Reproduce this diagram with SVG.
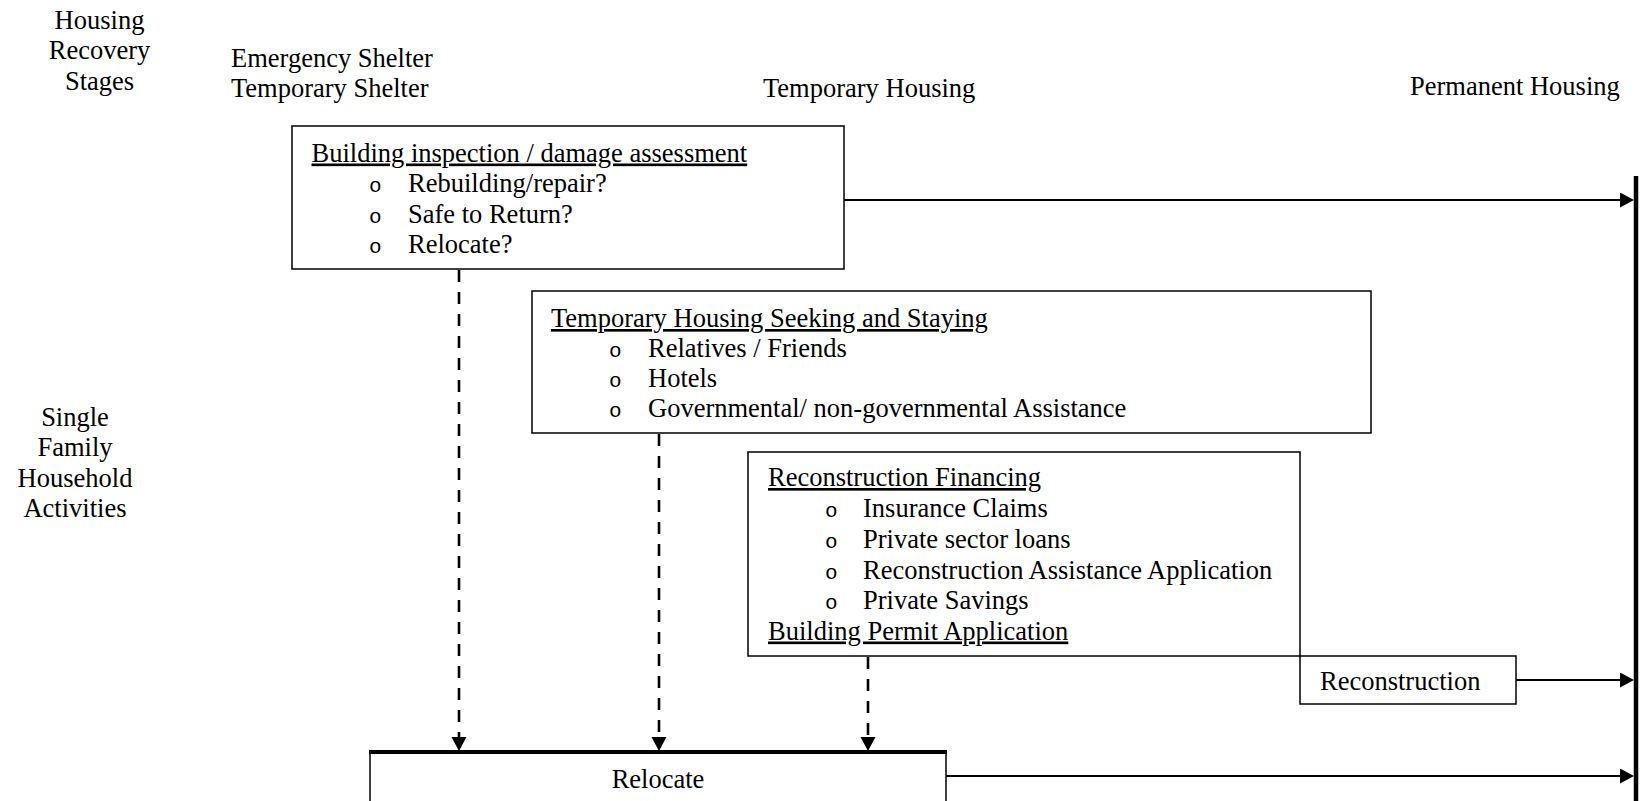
<svg xmlns="http://www.w3.org/2000/svg" width="1640" height="801" viewBox="0 0 1640 801">
<style>
text{font-family:"Liberation Serif","Times New Roman",serif;font-size:26.5px;fill:#000}
.b{font-family:"Liberation Mono","Courier New",monospace;font-size:21px}
.u{text-decoration:underline}
.box{fill:#fff;stroke:#000;stroke-width:1.5}
.solid{stroke:#000;stroke-width:2;fill:none}
.dash{stroke:#000;stroke-width:2.6;fill:none;stroke-dasharray:12 10}
</style>
<defs>
<marker id="ah" markerUnits="userSpaceOnUse" markerWidth="15" markerHeight="16" refX="0" refY="7.5" orient="auto">
<path d="M0,0 L14,7.5 L0,15 z" fill="#000"/>
</marker>
</defs>
<rect width="1640" height="801" fill="#fff"/>
<g id="stage-labels">
<text x="99.5" y="28.5" text-anchor="middle">Housing</text>
<text x="99.5" y="59" text-anchor="middle">Recovery</text>
<text x="99.5" y="89.5" text-anchor="middle">Stages</text>
<text x="231" y="66.5">Emergency Shelter</text>
<text x="231" y="97">Temporary Shelter</text>
<text x="763" y="97">Temporary Housing</text>
<text x="1410" y="95">Permanent Housing</text>
</g>
<g id="row-label">
<text x="75" y="425.5" text-anchor="middle">Single</text>
<text x="75" y="456" text-anchor="middle">Family</text>
<text x="75" y="486.5" text-anchor="middle">Household</text>
<text x="75" y="517" text-anchor="middle">Activities</text>
</g>
<g id="permanent-bar">
<line x1="1636" y1="176" x2="1636" y2="801" stroke="#000" stroke-width="4.5"/>
</g>
<g id="connectors">
<line class="solid" x1="844" y1="200" x2="1620" y2="200" marker-end="url(#ah)"/>
<line class="solid" x1="1516" y1="680" x2="1620" y2="680" marker-end="url(#ah)"/>
<line class="solid" x1="946" y1="776" x2="1620" y2="776" marker-end="url(#ah)"/>
<line class="dash" x1="459" y1="270" x2="459" y2="737" marker-end="url(#ah)"/>
<line class="dash" x1="659" y1="434" x2="659" y2="737" marker-end="url(#ah)"/>
<line class="dash" x1="868" y1="657" x2="868" y2="737" marker-end="url(#ah)"/>
</g>
<g id="inspection">
<rect class="box" x="292" y="126" width="552" height="143"/>
<text class="u" x="311.5" y="161.5">Building inspection / damage assessment</text>
<text class="b" x="369" y="192">o</text><text x="408" y="192">Rebuilding/repair?</text>
<text class="b" x="369" y="222.5">o</text><text x="408" y="222.5">Safe to Return?</text>
<text class="b" x="369" y="253">o</text><text x="408" y="253">Relocate?</text>
</g>
<g id="temporary-housing">
<rect class="box" x="532" y="291" width="839" height="142"/>
<text class="u" x="551" y="327">Temporary Housing Seeking and Staying</text>
<text class="b" x="609" y="357">o</text><text x="648" y="357">Relatives / Friends</text>
<text class="b" x="609" y="387">o</text><text x="648" y="387">Hotels</text>
<text class="b" x="609" y="417">o</text><text x="648" y="417">Governmental/ non-governmental Assistance</text>
</g>
<g id="financing">
<rect class="box" x="748" y="452" width="552" height="204"/>
<text class="u" x="768" y="486">Reconstruction Financing</text>
<text class="b" x="825" y="517">o</text><text x="863" y="517">Insurance Claims</text>
<text class="b" x="825" y="548">o</text><text x="863" y="548">Private sector loans</text>
<text class="b" x="825" y="578.5">o</text><text x="863" y="578.5">Reconstruction Assistance Application</text>
<text class="b" x="825" y="609">o</text><text x="863" y="609">Private Savings</text>
<text class="u" x="768" y="639.5">Building Permit Application</text>
</g>
<g id="reconstruction">
<rect class="box" x="1300" y="656" width="216" height="48"/>
<text x="1320" y="690">Reconstruction</text>
</g>
<g id="relocate">
<rect class="box" x="370" y="752" width="576" height="60"/>
<line x1="369" y1="752" x2="947" y2="752" stroke="#000" stroke-width="4"/>
<text x="658" y="788" text-anchor="middle">Relocate</text>
</g>
</svg>
